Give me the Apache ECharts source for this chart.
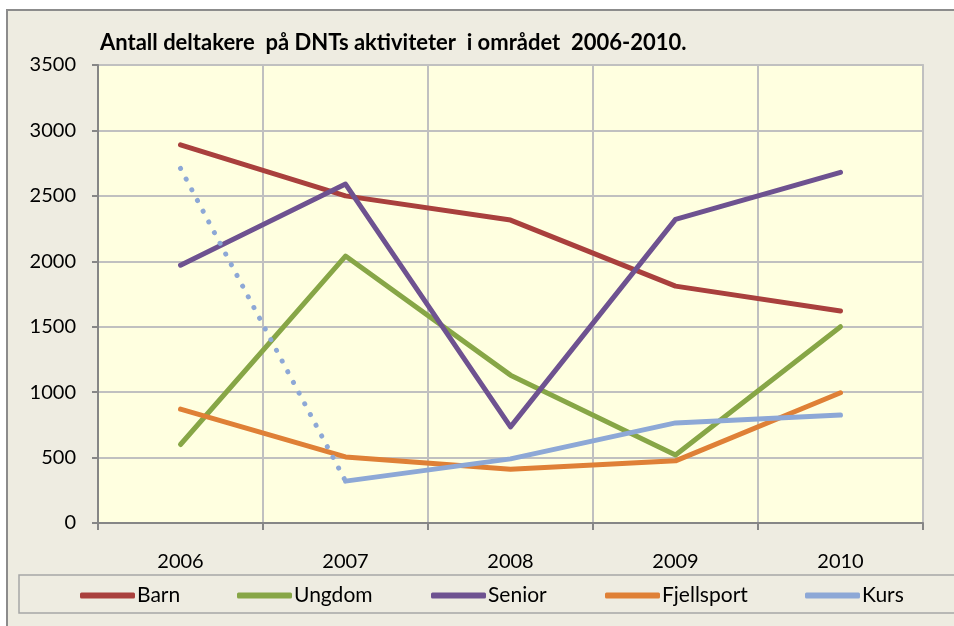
<!DOCTYPE html>
<html>
<head>
<meta charset="utf-8">
<script src="https://cdn.jsdelivr.net/npm/echarts@6/dist/echarts.min.js"></script>
<style>
  html, body { margin: 0; padding: 0; background: #fff; }
  #chart { width: 954px; height: 626px; }
</style>
</head>
<body>
<div id="chart"></div>
<script>
const years = ['2006', '2007', '2008', '2009', '2010'];
const barn = [2890, 2500, 2315, 1810, 1620];
const ungdom = [600, 2040, 1130, 520, 1500];
const senior = [1970, 2590, 735, 2320, 2680];
const fjellsport = [870, 505, 410, 475, 995];
const kurs = [null, 320, 490, 765, 825];
// the 2006 -> 2007 part of Kurs is drawn dotted in the original
const kursDotted = [2710, 320, null, null, null];

const seriesNames = ['Barn', 'Ungdom', 'Senior', 'Fjellsport', 'Kurs'];
const legendLeft = [80, 237, 431, 605, 805];

const font = "Lato, 'Liberation Sans', sans-serif";

const chart = echarts.init(document.getElementById('chart'), null, { renderer: 'canvas' });

const line = (name, data, color, extra) => Object.assign({
    name: name,
    type: 'line',
    data: data,
    symbol: 'none',
    lineStyle: { color: color, width: 5, cap: 'round', join: 'round' },
    itemStyle: { color: color },
    animation: false
}, extra || {});

// one legend block per entry so each sits where the original puts it
const legends = seriesNames.map((n, i) => ({
    data: [n],
    left: legendLeft[i], top: 585,
    padding: 0,
    icon: 'roundRect',
    itemWidth: 55, itemHeight: 6,
    textStyle: { fontFamily: font, fontSize: 21, color: '#000', padding: [2, 0, 0, -3] }
}));

chart.setOption({
    animation: false,
    graphic: [
        // outer chart frame
        { type: 'rect', shape: { x: 7, y: 10, width: 960, height: 640 }, style: { fill: '#EEECE1', stroke: '#8C8C8C', lineWidth: 2 }, z: -10 },
        // legend box
        { type: 'rect', shape: { x: 19, y: 575, width: 960, height: 38 }, style: { fill: '#EEECE1', stroke: '#A6A6A6', lineWidth: 1.5 }, z: -5 }
    ],
    title: {
        text: 'Antall deltakere  på DNTs aktiviteter  i området  2006-2010.',
        left: 95, top: 27,
        textStyle: { fontFamily: font, fontSize: 22, fontWeight: 'bold', color: '#000' }
    },
    legend: legends,
    grid: {
        left: 98, right: 31, top: 65, bottom: 103,
        show: true, backgroundColor: '#FFFFE0', borderColor: '#A6A6A6', borderWidth: 1.5
    },
    xAxis: {
        type: 'category',
        data: years,
        boundaryGap: true,
        axisLine: { lineStyle: { color: '#868686', width: 2 } },
        axisTick: { show: true, length: 7, lineStyle: { color: '#868686', width: 2 } },
        axisLabel: { margin: 29, fontFamily: font, fontSize: 20, color: '#000' },
        splitLine: { show: true, lineStyle: { color: '#C0C0C0', width: 2 } }
    },
    yAxis: {
        type: 'value',
        min: 0, max: 3500, interval: 500,
        axisLine: { show: true, lineStyle: { color: '#868686', width: 2 } },
        axisTick: { show: true, length: 6, lineStyle: { color: '#868686', width: 2 } },
        axisLabel: { margin: 22, fontFamily: font, fontSize: 20, color: '#000', formatter: v => String(v) },
        splitLine: { show: true, lineStyle: { color: '#C0C0C0', width: 2 } }
    },
    series: [
        line('Barn', barn, '#A9403D'),
        line('Ungdom', ungdom, '#87A646'),
        line('Senior', senior, '#6E5290'),
        line('Fjellsport', fjellsport, '#DF8036'),
        line('Kurs', kurs, '#8DA8D6'),
        line('Kurs', kursDotted, '#8DA8D6', {
            lineStyle: { color: '#8DA8D6', width: 5, type: [0.1, 12], cap: 'round' }
        })
    ]
});
</script>
</body>
</html>
